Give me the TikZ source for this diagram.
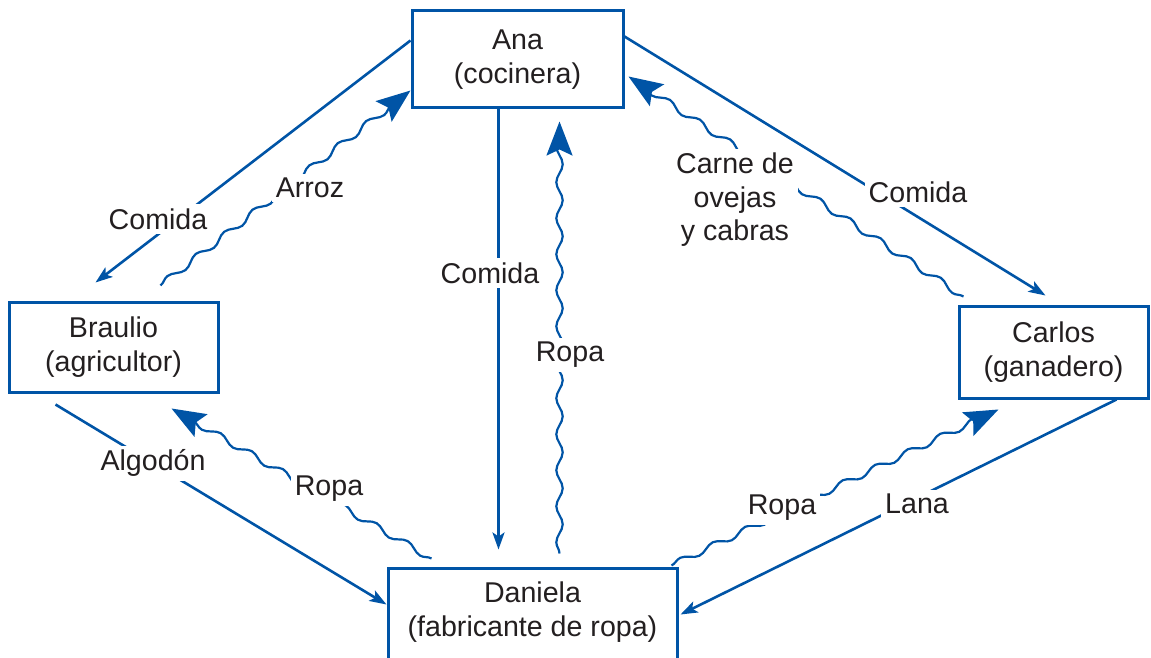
\documentclass[tikz,border=0pt]{standalone}
\usepackage{fontspec}
\setmainfont{Liberation Sans}
\usepackage{tikz}
\usetikzlibrary{positioning,calc,arrows.meta,decorations.pathmorphing}
\definecolor{TradeBlue}{RGB}{0,84,166}
\definecolor{TextGray}{RGB}{35,31,32}
\tikzset{
    personbox/.style={rectangle, draw=TradeBlue, fill=white, line width=1.5pt, align=center, text=TextGray, inner sep=0pt},
    every node/.style={font=\fontsize{14.3}{16.8}\selectfont}
}
\begin{document}
\begin{tikzpicture}[
        x=0.5pt, y=-0.5pt,
        % --- STYLE ---
        flow/.style={
            draw=TradeBlue,
            line width=1.3pt,
            -{Stealth[length=8.5pt, width=6pt, inset=2pt]}
        },
        % Ondas: bienes que se entregan
        goods/.style={
            draw=TradeBlue,
            line width=1.1pt,
            decorate,
            decoration={snake, amplitude=1.6pt, segment length=18pt, post length=6pt},
            -{Stealth[length=17pt, width=13pt, inset=3pt]}
        },
        trade_text/.style={
            fill=white,
            text=TextGray,
            inner sep=2pt,
            align=center
        }
    ]
    \useasboundingbox (0,0) rectangle (1151,658);
    \clip (0,0) rectangle (1151,658);

    % --- PERSONAS ---
    \node[personbox, minimum width=105.5pt, minimum height=48.5pt] (ana) at (517.5,59.5) {Ana\\(cocinera)};
    \node[personbox, minimum width=104.5pt, minimum height=45pt] (braulio) at (113.5,347) {Braulio\\(agricultor)};
    \node[personbox, minimum width=94.5pt, minimum height=46pt] (carlos) at (1053.5,352) {Carlos\\(ganadero)};
    \node[personbox, minimum width=144.5pt, minimum height=48pt, text depth=7pt] (daniela) at (532.5,616) {Daniela\\(fabricante de ropa)};

    % --- FLUJOS ---
    % Ana - Braulio
    \draw[flow] ($(ana.north west)+(0,31)$) -- ($(braulio.north west)+(88,-18)$);
    \draw[goods] ($(braulio.north west)+(153,-15)$) -- ($(ana.north west)+(0,81)$);
    % Ana - Daniela
    \draw[flow] ($(ana.south west)+(88,0)$) -- ($(daniela.north west)+(112,-17)$);
    \draw[goods] ($(daniela.north west)+(173,-13)$) -- ($(ana.south west)+(149,12)$);
    % Ana - Carlos
    \draw[flow] ($(ana.north east)+(0,27)$) -- ($(carlos.north west)+(88,-9)$);
    \draw[goods] ($(carlos.north west)+(6,-8)$) -- ($(ana.north east)+(4,67)$);
    % Braulio - Daniela
    \draw[flow] ($(braulio.south west)+(48,11)$) -- ($(daniela.north west)+(0,38)$);
    \draw[goods] ($(daniela.north west)+(45,-8)$) -- ($(braulio.south west)+(164,15)$);
    % Carlos - Daniela
    \draw[flow] ($(carlos.south west)+(159,0)$) -- ($(daniela.north east)+(2,48)$);
    \draw[goods] ($(daniela.north east)+(-7,-1)$) -- ($(carlos.south west)+(41,10)$);

    % --- ETIQUETAS ---
    \node[trade_text] (comida_b) at (158,219) {Comida};
    \node[trade_text] (arroz) at (310,188) {Arroz};
    \node[trade_text] (comida_d) at (490,273) {Comida};
    \node[trade_text] (ropa_a) at (570,355) {Ropa};
    \node[trade_text] (comida_c) at (918,192) {Comida};
    \node[trade_text] (carne) at (735,200) {Carne de\\ovejas\\y cabras};
    \node[trade_text] (algodon) at (153,463) {Algodón};
    \node[trade_text] (ropa_b) at (329,489) {Ropa};
    \node[trade_text] (ropa_c) at (782,508) {Ropa};
    \node[trade_text] (lana) at (917,504) {Lana};

\end{tikzpicture}
\end{document}
